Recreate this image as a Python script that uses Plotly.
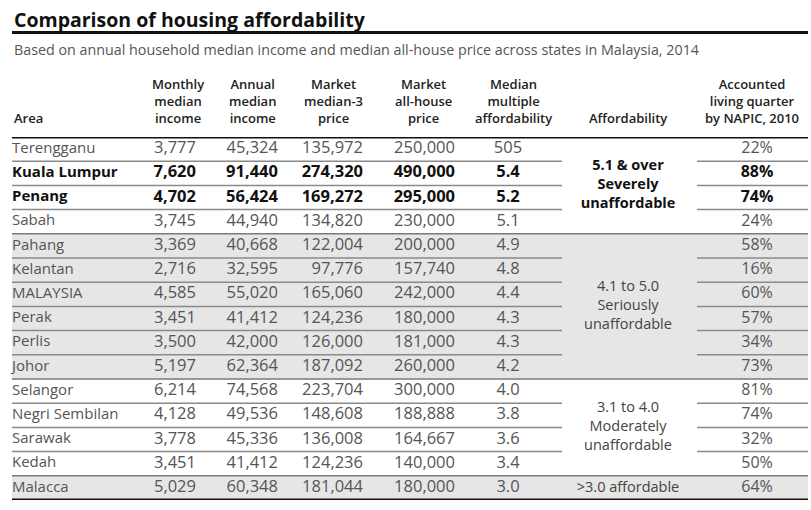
import plotly.graph_objects as go

# table data
areas = ["Terengganu", "Kuala Lumpur", "Penang", "Sabah", "Pahang", "Kelantan",
         "MALAYSIA", "Perak", "Perlis", "Johor", "Selangor", "Negri Sembilan",
         "Sarawak", "Kedah", "Malacca"]
monthly_income = [3777, 7620, 4702, 3745, 3369, 2716, 4585, 3451, 3500, 5197,
                  6214, 4128, 3778, 3451, 5029]
annual_income = [45324, 91440, 56424, 44940, 40668, 32595, 55020, 41412, 42000,
                 62364, 74568, 49536, 45336, 41412, 60348]
median3_price = [135972, 274320, 169272, 134820, 122004, 97776, 165060, 124236,
                 126000, 187092, 223704, 148608, 136008, 124236, 181044]
allhouse_price = [250000, 490000, 295000, 230000, 200000, 157740, 242000, 180000,
                  181000, 260000, 300000, 188888, 164667, 140000, 180000]
median_multiple = ["505", "5.4", "5.2", "5.1", "4.9", "4.8", "4.4", "4.3", "4.3",
                   "4.2", "4.0", "3.8", "3.6", "3.4", "3.0"]
napic_share = [22, 88, 74, 24, 58, 16, 60, 57, 34, 73, 81, 74, 32, 50, 64]
bold_areas = ["Kuala Lumpur", "Penang"]

afford_labels = ["5.1 &amp; over<br>Severely<br>unaffordable",
                 "4.1 to 5.0<br>Seriously<br>unaffordable",
                 "3.1 to 4.0<br>Moderately<br>unaffordable",
                 ">3.0 affordable"]
afford_first = [0, 4, 10, 14]
afford_last = [3, 9, 13, 14]
afford_bold = [True, False, False, False]

headers = ["Area", "Monthly<br>median<br>income", "Annual<br>median<br>income",
           "Market<br>median-3<br>price", "Market<br>all-house<br>price",
           "Median<br>multiple<br>affordability", "Affordability",
           "Accounted<br>living quarter<br>by NAPIC, 2010"]

W, H = 811, 510
LEFT, RIGHT = 12, 808
FONT = "Open Sans"
n = len(areas)
rows = list(range(n))
is_bold = [a in bold_areas for a in areas]
txt_color = ["#111111" if b else "#555555" for b in is_bold]


def fmt(v, b):
    return f"<b>{v}</b>" if b else str(v)


fig = go.Figure()

# grey bands for alternate affordability groups
shapes = []
for g in range(len(afford_first)):
    if g % 2 == 1:
        shapes.append(dict(type="rect", xref="x", yref="y", layer="below",
                           x0=LEFT, x1=RIGHT, y0=afford_first[g] - 0.5,
                           y1=afford_last[g] + 0.5, fillcolor="#e6e6e6",
                           line=dict(width=0)))

# row separators
for i in range(n - 1):
    y = i + 0.5
    if (i + 1) in afford_first:
        shapes.append(dict(type="line", xref="x", yref="y", x0=LEFT, x1=RIGHT,
                           y0=y, y1=y, line=dict(color="#7a7a7a", width=1.5)))
    else:
        for x0, x1 in [(LEFT, 562), (697, RIGHT)]:
            shapes.append(dict(type="line", xref="x", yref="y", x0=x0, x1=x1,
                               y0=y, y1=y, line=dict(color="#8a8a8a", width=1.5)))

# heavy rules
for y in [-0.5, n - 0.5]:
    shapes.append(dict(type="line", xref="x", yref="y", x0=LEFT, x1=RIGHT,
                       y0=y, y1=y, line=dict(color="#111111", width=3)))
shapes.append(dict(type="line", xref="x", yref="paper", x0=LEFT, x1=RIGHT,
                   y0=1 - 32.5 / H, y1=1 - 32.5 / H,
                   line=dict(color="#111111", width=3)))

# columns: (values, x, textposition, size)
columns = [
    (areas, LEFT, "middle right", 15),
    ([f"{v:,}" for v in monthly_income], 196, "middle left", 16.5),
    ([f"{v:,}" for v in annual_income], 278, "middle left", 16.5),
    ([f"{v:,}" for v in median3_price], 363, "middle left", 16.5),
    ([f"{v:,}" for v in allhouse_price], 455, "middle left", 16.5),
    (median_multiple, 508, "middle center", 16.5),
    ([f"{v}%" for v in napic_share], 757, "middle center", 16),
]
for vals, x, pos, size in columns:
    fig.add_trace(go.Scatter(
        x=[x] * n, y=rows, mode="text",
        text=[fmt(v, b) for v, b in zip(vals, is_bold)],
        textposition=pos,
        textfont=dict(family=FONT, size=size, color=txt_color),
        hoverinfo="skip", showlegend=False, cliponaxis=False))

# merged affordability cells
fig.add_trace(go.Scatter(
    x=[628] * len(afford_labels),
    y=[(a + b) / 2 for a, b in zip(afford_first, afford_last)],
    mode="text",
    text=[fmt(t, b) for t, b in zip(afford_labels, afford_bold)],
    textposition="middle center",
    textfont=dict(family=FONT, size=14.5,
                  color=["#111111" if b else "#444444" for b in afford_bold]),
    hoverinfo="skip", showlegend=False, cliponaxis=False))

annotations = [
    dict(text="<b>Comparison of housing affordability</b>", xref="paper",
         yref="paper", x=LEFT / W, y=1 - 4 / H, xanchor="left", yanchor="top",
         showarrow=False, font=dict(family=FONT, size=19.5, color="#111111")),
    dict(text="Based on annual household median income and median all-house price "
              "across states in Malaysia, 2014",
         xref="paper", yref="paper", x=LEFT / W, y=1 - 50 / H, xanchor="left",
         yanchor="middle", showarrow=False,
         font=dict(family=FONT, size=14.3, color="#555555")),
]
header_x = [LEFT, 178, 252, 333, 423, 513, 628, 752]
for h, x in zip(headers, header_x):
    first = x == LEFT
    annotations.append(dict(
        text=h, xref="x", yref="paper", x=x, y=1 - 129 / H,
        xanchor="left" if first else "center", yanchor="bottom",
        align="left" if first else "center", showarrow=False,
        font=dict(family=FONT, size=13, color="#222222", weight=600)))

fig.update_layout(
    width=W, height=H,
    margin=dict(l=0, r=0, t=0, b=0),
    paper_bgcolor="white", plot_bgcolor="white",
    xaxis=dict(range=[0, W], visible=False, fixedrange=True),
    yaxis=dict(range=[n - 0.5, -0.5], visible=False, fixedrange=True,
               domain=[(H - 500) / H, (H - 137) / H]),
    shapes=shapes, annotations=annotations,
)

fig.write_html("out.html", config={"displayModeBar": False},
               post_script="document.body.style.margin='0px';")
